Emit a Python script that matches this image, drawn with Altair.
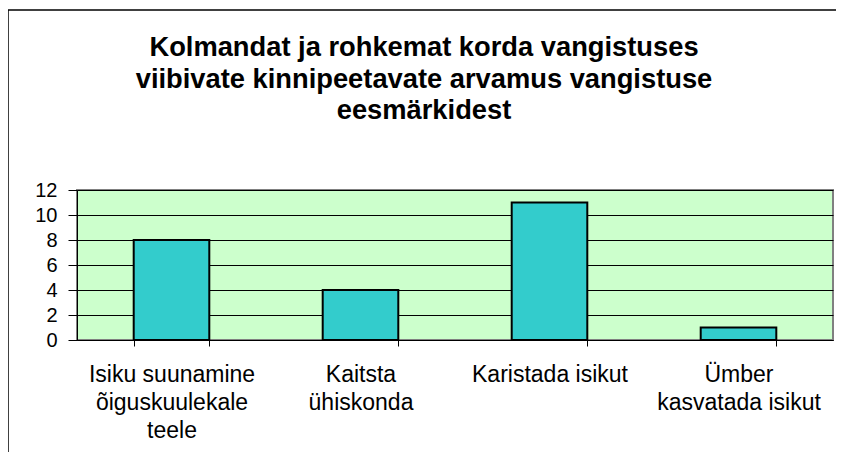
import altair as alt
import pandas as pd

categories = [
    "Isiku suunamine\nõiguskuulekale\nteele",
    "Kaitsta\nühiskonda",
    "Karistada isikut",
    "Ümber\nkasvatada isikut",
]
values = [8, 4, 11, 1]
title_lines = [
    "Kolmandat ja rohkemat korda vangistuses",
    "viibivate kinnipeetavate arvamus vangistuse",
    "eesmärkidest",
]
y_ticks = [0, 2, 4, 6, 8, 10, 12]

df = pd.DataFrame({"cat": categories, "val": values})

W, H = 756, 150
FONT = "Liberation Sans"

bars = alt.Chart(df).mark_bar(color="#33CCCC", stroke="black", strokeWidth=2).encode(
    x=alt.X(
        "cat:N",
        sort=categories,
        scale=alt.Scale(paddingInner=0.6, paddingOuter=0.3),
        axis=alt.Axis(
            title=None,
            labelAngle=0,
            labelExpr="split(datum.label, '\\n')",
            tickBand="extent",
            tickSize=6,
            tickColor="black",
            domainColor="black",
            grid=False,
            labelFont=FONT,
            labelFontSize=23,
            labelLineHeight=28,
            labelPadding=17,
            labelColor="black",
            labelLimit=400,
        ),
    ),
    y=alt.Y(
        "val:Q",
        scale=alt.Scale(domain=[0, 12]),
        axis=alt.Axis(
            title=None,
            values=y_ticks,
            grid=True,
            gridColor="black",
            gridOpacity=1,
            tickSize=9,
            tickColor="black",
            domainColor="black",
            labelFont=FONT,
            labelFontSize=20,
            labelPadding=11,
            labelColor="black",
        ),
    ),
)

frame_df = pd.DataFrame({"k": [0]})
left_border = alt.Chart(frame_df).mark_rule(color="black", strokeWidth=1.5).encode(
    x=alt.value(-69), y=alt.value(-180), y2=alt.value(270)
)
top_border = alt.Chart(frame_df).mark_rule(color="black", strokeWidth=1.5).encode(
    x=alt.value(-69), x2=alt.value(759), y=alt.value(-180)
)
title_text = alt.Chart(frame_df).mark_text(
    font=FONT,
    fontSize=27.3,
    fontWeight="bold",
    color="black",
    align="center",
    baseline="alphabetic",
    lineHeight=31.5,
).encode(x=alt.value(347), y=alt.value(-134), text=alt.value(title_lines))

chart = (
    alt.layer(bars, left_border, top_border, title_text)
    .properties(
        width=W,
        height=H,
        autosize=alt.AutoSizeParams(type="none"),
        padding={"left": 69, "top": 182, "right": 4, "bottom": 112},
        view=alt.ViewBackground(fill="#CCFFCC", stroke="#808080", strokeWidth=2),
    )
    .configure(background="white")
)

chart.save("out.html", embed_options={"renderer": "svg", "actions": False})
